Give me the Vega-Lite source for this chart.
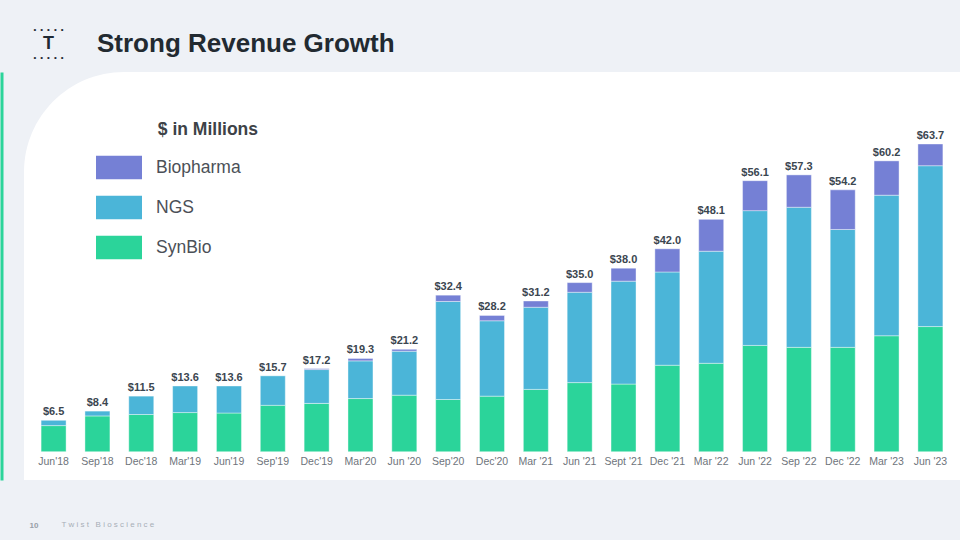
{
  "$schema": "https://vega.github.io/schema/vega-lite/v6.json",
  "autosize": "none",
  "width": 936,
  "height": 408,
  "padding": {"left": 24, "top": 72, "right": 0, "bottom": 60},
  "background": "#EEF1F6",
  "title": {
    "text": "Strong Revenue Growth",
    "anchor": "start",
    "frame": "group",
    "dx": 73,
    "offset": -32,
    "fontSize": 26,
    "fontWeight": "bold",
    "color": "#222A31",
    "font": "Liberation Sans"
  },
  "datasets": {
    "rev": [
      {"q": "Jun'18", "segment": "SynBio", "value": 5.4},
      {"q": "Jun'18", "segment": "NGS", "value": 1.1},
      {"q": "Sep'18", "segment": "SynBio", "value": 7.4},
      {"q": "Sep'18", "segment": "NGS", "value": 1.0},
      {"q": "Dec'18", "segment": "SynBio", "value": 7.7},
      {"q": "Dec'18", "segment": "NGS", "value": 3.8},
      {"q": "Mar'19", "segment": "SynBio", "value": 8.1},
      {"q": "Mar'19", "segment": "NGS", "value": 5.5},
      {"q": "Jun'19", "segment": "SynBio", "value": 8.0},
      {"q": "Jun'19", "segment": "NGS", "value": 5.6},
      {"q": "Sep'19", "segment": "SynBio", "value": 9.6},
      {"q": "Sep'19", "segment": "NGS", "value": 6.1},
      {"q": "Dec'19", "segment": "SynBio", "value": 10.0},
      {"q": "Dec'19", "segment": "NGS", "value": 7.0},
      {"q": "Dec'19", "segment": "Biopharma", "value": 0.2},
      {"q": "Mar'20", "segment": "SynBio", "value": 11.0},
      {"q": "Mar'20", "segment": "NGS", "value": 7.8},
      {"q": "Mar'20", "segment": "Biopharma", "value": 0.5},
      {"q": "Jun '20", "segment": "SynBio", "value": 11.7},
      {"q": "Jun '20", "segment": "NGS", "value": 9.1},
      {"q": "Jun '20", "segment": "Biopharma", "value": 0.4},
      {"q": "Sep'20", "segment": "SynBio", "value": 10.8},
      {"q": "Sep'20", "segment": "NGS", "value": 20.3},
      {"q": "Sep'20", "segment": "Biopharma", "value": 1.3},
      {"q": "Dec'20", "segment": "SynBio", "value": 11.5},
      {"q": "Dec'20", "segment": "NGS", "value": 15.6},
      {"q": "Dec'20", "segment": "Biopharma", "value": 1.1},
      {"q": "Mar '21", "segment": "SynBio", "value": 12.9},
      {"q": "Mar '21", "segment": "NGS", "value": 17.0},
      {"q": "Mar '21", "segment": "Biopharma", "value": 1.3},
      {"q": "Jun '21", "segment": "SynBio", "value": 14.3},
      {"q": "Jun '21", "segment": "NGS", "value": 18.7},
      {"q": "Jun '21", "segment": "Biopharma", "value": 2.0},
      {"q": "Sept '21", "segment": "SynBio", "value": 14.0},
      {"q": "Sept '21", "segment": "NGS", "value": 21.3},
      {"q": "Sept '21", "segment": "Biopharma", "value": 2.7},
      {"q": "Dec '21", "segment": "SynBio", "value": 17.9},
      {"q": "Dec '21", "segment": "NGS", "value": 19.3},
      {"q": "Dec '21", "segment": "Biopharma", "value": 4.8},
      {"q": "Mar '22", "segment": "SynBio", "value": 18.3},
      {"q": "Mar '22", "segment": "NGS", "value": 23.2},
      {"q": "Mar '22", "segment": "Biopharma", "value": 6.6},
      {"q": "Jun '22", "segment": "SynBio", "value": 22.0},
      {"q": "Jun '22", "segment": "NGS", "value": 27.9},
      {"q": "Jun '22", "segment": "Biopharma", "value": 6.2},
      {"q": "Sep '22", "segment": "SynBio", "value": 21.6},
      {"q": "Sep '22", "segment": "NGS", "value": 29.0},
      {"q": "Sep '22", "segment": "Biopharma", "value": 6.7},
      {"q": "Dec '22", "segment": "SynBio", "value": 21.6},
      {"q": "Dec '22", "segment": "NGS", "value": 24.4},
      {"q": "Dec '22", "segment": "Biopharma", "value": 8.2},
      {"q": "Mar '23", "segment": "SynBio", "value": 24.0},
      {"q": "Mar '23", "segment": "NGS", "value": 29.1},
      {"q": "Mar '23", "segment": "Biopharma", "value": 7.1},
      {"q": "Jun '23", "segment": "SynBio", "value": 25.9},
      {"q": "Jun '23", "segment": "NGS", "value": 33.3},
      {"q": "Jun '23", "segment": "Biopharma", "value": 4.5}
    ],
    "tot": [
      {"q": "Jun'18", "total": 6.5},
      {"q": "Sep'18", "total": 8.4},
      {"q": "Dec'18", "total": 11.5},
      {"q": "Mar'19", "total": 13.6},
      {"q": "Jun'19", "total": 13.6},
      {"q": "Sep'19", "total": 15.7},
      {"q": "Dec'19", "total": 17.2},
      {"q": "Mar'20", "total": 19.3},
      {"q": "Jun '20", "total": 21.2},
      {"q": "Sep'20", "total": 32.4},
      {"q": "Dec'20", "total": 28.2},
      {"q": "Mar '21", "total": 31.2},
      {"q": "Jun '21", "total": 35.0},
      {"q": "Sept '21", "total": 38.0},
      {"q": "Dec '21", "total": 42.0},
      {"q": "Mar '22", "total": 48.1},
      {"q": "Jun '22", "total": 56.1},
      {"q": "Sep '22", "total": 57.3},
      {"q": "Dec '22", "total": 54.2},
      {"q": "Mar '23", "total": 60.2},
      {"q": "Jun '23", "total": 63.7}
    ]
  },
  "layer": [
    {
      "data": {"name": "rev"},
      "mark": {"type": "bar", "stroke": "white", "strokeWidth": 1, "strokeOpacity": 0.4},
      "encoding": {
        "x": {
          "field": "q",
          "type": "nominal",
          "sort": ["Jun'18", "Sep'18", "Dec'18", "Mar'19", "Jun'19", "Sep'19", "Dec'19", "Mar'20", "Jun '20", "Sep'20", "Dec'20", "Mar '21", "Jun '21", "Sept '21", "Dec '21", "Mar '22", "Jun '22", "Sep '22", "Dec '22", "Mar '23", "Jun '23"],
          "scale": {"paddingInner": 0.43, "paddingOuter": 0.39},
          "axis": {
            "orient": "bottom",
            "offset": -28.3,
            "domain": false,
            "ticks": false,
            "grid": false,
            "labelAngle": 0,
            "labelPadding": 5,
            "labelFontSize": 10.5,
            "labelColor": "#6E747B",
            "labelFont": "Liberation Sans",
            "title": "T w i s t \u00a0 B i o s c i e n c e",
            "titleX": 37,
            "titleY": 75,
            "titleAlign": "left",
            "titleAnchor": "start",
            "titleBaseline": "alphabetic",
            "titleFontSize": 8,
            "titleFontWeight": "normal",
            "titleColor": "#A7AEB6",
            "titleFont": "Liberation Sans"
          }
        },
        "y": {
          "field": "value",
          "type": "quantitative",
          "stack": "zero",
          "scale": {"domain": [-5.86, 78.6], "nice": false, "zero": false},
          "axis": {
            "orient": "left",
            "offset": 22.5,
            "domain": true,
            "domainColor": "#2BD49A",
            "domainWidth": 3,
            "ticks": false,
            "labels": false,
            "grid": false,
            "title": "T",
            "titleX": 46.5,
            "titleY": -28.5,
            "titleAngle": 0,
            "titleAlign": "center",
            "titleBaseline": "middle",
            "titleFontSize": 18,
            "titleFontWeight": "bold",
            "titleColor": "#1F2933",
            "titleFont": "Liberation Sans"
          }
        },
        "color": {
          "field": "segment",
          "type": "nominal",
          "scale": {"domain": ["Biopharma", "NGS", "SynBio"], "range": ["#7580D5", "#4BB5D8", "#2BD49A"]},
          "legend": {
            "title": "\u200b\u00a0\u00a0\u00a0\u00a0\u00a0\u00a0\u00a0\u00a0\u00a0\u00a0\u00a0\u00a0\u2009$ in Millions",
            "orient": "none",
            "legendX": 72,
            "legendY": 49,
            "padding": 0,
            "symbolType": "M-1,-0.51H1V0.51H-1Z",
            "symbolSize": 2116,
            "symbolStrokeWidth": 0,
            "labelFontSize": 17.5,
            "labelColor": "#4B5057",
            "labelOffset": 14,
            "labelFont": "Liberation Sans",
            "titleFontSize": 17.5,
            "titleFontWeight": "bold",
            "titleColor": "#3D4247",
            "titleFont": "Liberation Sans",
            "titlePadding": 6,
            "rowPadding": 5
          }
        },
        "order": {"field": "segment", "sort": "descending"}
      }
    },
    {
      "data": {"name": "tot"},
      "mark": {"type": "text", "fontWeight": "bold", "fontSize": 11, "color": "#3B4650", "baseline": "alphabetic", "dy": -5, "font": "Liberation Sans"},
      "encoding": {
        "x": {
          "field": "q",
          "type": "nominal",
          "sort": ["Jun'18", "Sep'18", "Dec'18", "Mar'19", "Jun'19", "Sep'19", "Dec'19", "Mar'20", "Jun '20", "Sep'20", "Dec'20", "Mar '21", "Jun '21", "Sept '21", "Dec '21", "Mar '22", "Jun '22", "Sep '22", "Dec '22", "Mar '23", "Jun '23"],
          "axis": {
            "orient": "top",
            "domain": false,
            "ticks": false,
            "labels": false,
            "grid": false,
            "title": ["•\u2002•\u2002•\u2002•\u2002•", "•\u2002•\u2002•\u2002•\u2002•"],
            "titleX": 24,
            "titleY": -43,
            "titleAlign": "center",
            "titleAnchor": "middle",
            "titleBaseline": "middle",
            "titleFontSize": 8,
            "titleLineHeight": 28,
            "titleFontWeight": "normal",
            "titleColor": "#1F2933",
            "titleFont": "Liberation Sans"
          }
        },
        "y": {
          "field": "total",
          "type": "quantitative",
          "axis": {
            "orient": "right",
            "domain": false,
            "ticks": false,
            "labels": false,
            "grid": false,
            "title": "10",
            "titleX": -931,
            "titleY": 455,
            "titleAngle": 0,
            "titleAlign": "left",
            "titleBaseline": "alphabetic",
            "titleFontSize": 8,
            "titleFontWeight": "bold",
            "titleColor": "#98A0A8",
            "titleFont": "Liberation Sans"
          }
        },
        "text": {"field": "total", "type": "quantitative", "format": "$.1f"}
      }
    }
  ],
  "resolve": {"axis": {"x": "independent", "y": "independent"}},
  "config": {
    "view": {"fill": "white", "stroke": null},
    "style": {"cell": {"cornerRadiusTopLeft": 100}},
    "font": "Liberation Sans"
  }
}
